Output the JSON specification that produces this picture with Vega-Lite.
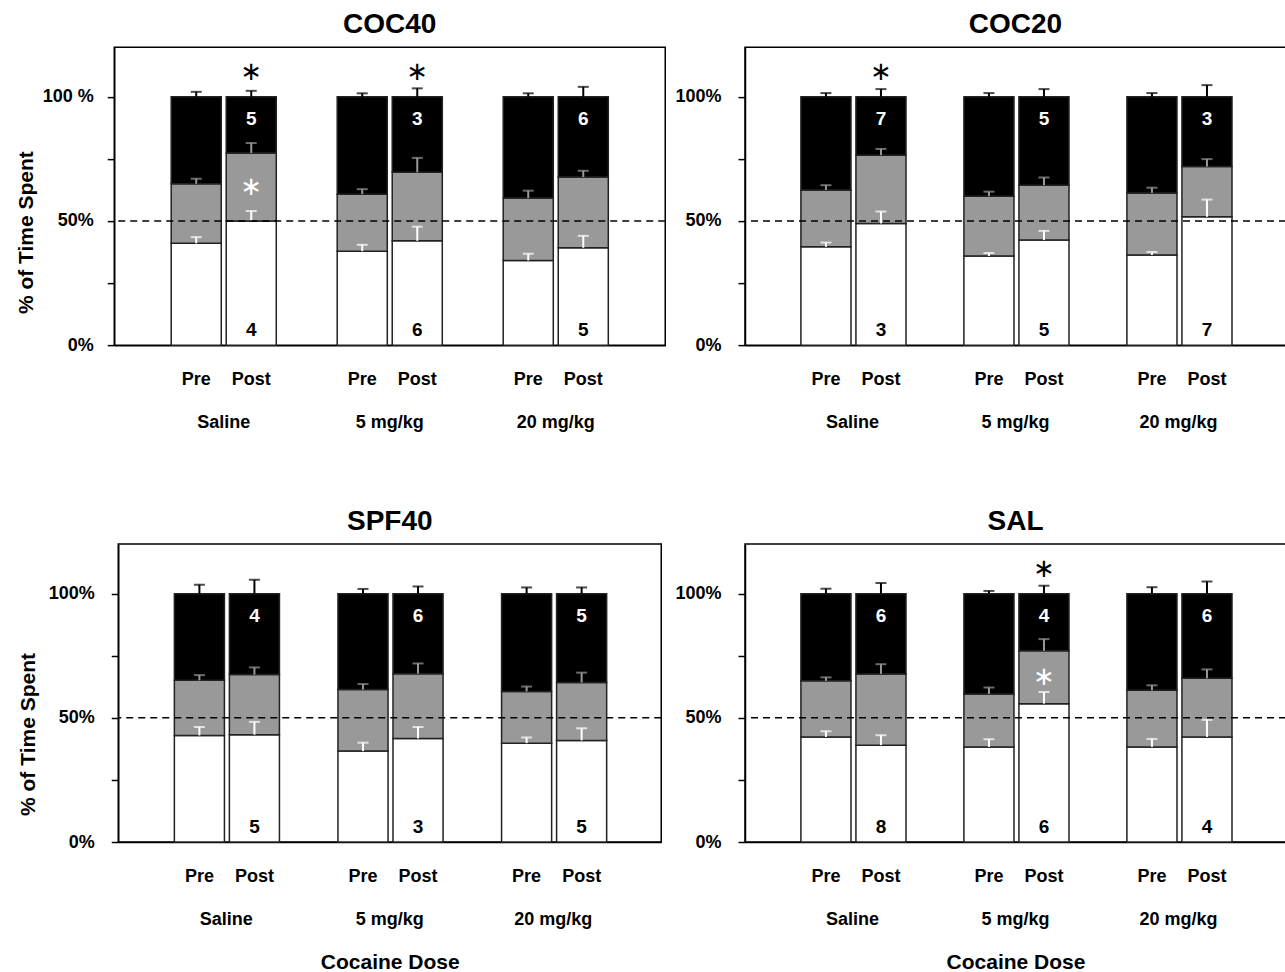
{
"$schema":"https://vega.github.io/schema/vega-lite/v6.json",
"background":"white",
"padding":{"left":0,"top":10,"right":0,"bottom":0},
"config":{"font":"Liberation Sans","view":{"stroke":"#000","strokeWidth":1.5},"axis":{"domainColor":"#000","tickColor":"#000","labelColor":"#000","titleColor":"#000","domainWidth":1.5,"tickWidth":1.5,"grid":false,"labelFont":"Liberation Sans","titleFont":"Liberation Sans"},"title":{"font":"Liberation Sans","color":"#000"}},
"datasets":{"seg":[
{"p":"COC40","d":"Saline","ph":"Pre","z":"White","lo":0,"hi":41,"err":43.5},
{"p":"COC40","d":"Saline","ph":"Pre","z":"Gray","lo":41,"hi":65,"err":67},
{"p":"COC40","d":"Saline","ph":"Pre","z":"Black","lo":65,"hi":100,"err":102},
{"p":"COC40","d":"Saline","ph":"Post","z":"White","lo":0,"hi":50,"err":54,"n":"4"},
{"p":"COC40","d":"Saline","ph":"Post","z":"Gray","lo":50,"hi":77.4,"err":81.4,"star":true},
{"p":"COC40","d":"Saline","ph":"Post","z":"Black","lo":77.4,"hi":100,"err":102.4,"n":"5","star":true},
{"p":"COC40","d":"5 mg/kg","ph":"Pre","z":"White","lo":0,"hi":37.8,"err":40.4},
{"p":"COC40","d":"5 mg/kg","ph":"Pre","z":"Gray","lo":37.8,"hi":60.8,"err":62.8},
{"p":"COC40","d":"5 mg/kg","ph":"Pre","z":"Black","lo":60.8,"hi":100,"err":101.4},
{"p":"COC40","d":"5 mg/kg","ph":"Post","z":"White","lo":0,"hi":42,"err":47.7,"n":"6"},
{"p":"COC40","d":"5 mg/kg","ph":"Post","z":"Gray","lo":42,"hi":69.6,"err":75.4},
{"p":"COC40","d":"5 mg/kg","ph":"Post","z":"Black","lo":69.6,"hi":100,"err":103.4,"n":"3","star":true},
{"p":"COC40","d":"20 mg/kg","ph":"Pre","z":"White","lo":0,"hi":34.1,"err":36.8},
{"p":"COC40","d":"20 mg/kg","ph":"Pre","z":"Gray","lo":34.1,"hi":59.2,"err":62.2},
{"p":"COC40","d":"20 mg/kg","ph":"Pre","z":"Black","lo":59.2,"hi":100,"err":101.4},
{"p":"COC40","d":"20 mg/kg","ph":"Post","z":"White","lo":0,"hi":39.2,"err":44,"n":"5"},
{"p":"COC40","d":"20 mg/kg","ph":"Post","z":"Gray","lo":39.2,"hi":67.7,"err":70.2},
{"p":"COC40","d":"20 mg/kg","ph":"Post","z":"Black","lo":67.7,"hi":100,"err":104,"n":"6"},
{"p":"COC20","d":"Saline","ph":"Pre","z":"White","lo":0,"hi":39.6,"err":41.3},
{"p":"COC20","d":"Saline","ph":"Pre","z":"Gray","lo":39.6,"hi":62.5,"err":64.4},
{"p":"COC20","d":"Saline","ph":"Pre","z":"Black","lo":62.5,"hi":100,"err":101.5},
{"p":"COC20","d":"Saline","ph":"Post","z":"White","lo":0,"hi":49,"err":53.8,"n":"3"},
{"p":"COC20","d":"Saline","ph":"Post","z":"Gray","lo":49,"hi":76.5,"err":79},
{"p":"COC20","d":"Saline","ph":"Post","z":"Black","lo":76.5,"hi":100,"err":103.1,"n":"7","star":true},
{"p":"COC20","d":"5 mg/kg","ph":"Pre","z":"White","lo":0,"hi":35.9,"err":37.1},
{"p":"COC20","d":"5 mg/kg","ph":"Pre","z":"Gray","lo":35.9,"hi":60,"err":61.8},
{"p":"COC20","d":"5 mg/kg","ph":"Pre","z":"Black","lo":60,"hi":100,"err":101.5},
{"p":"COC20","d":"5 mg/kg","ph":"Post","z":"White","lo":0,"hi":42.3,"err":46,"n":"5"},
{"p":"COC20","d":"5 mg/kg","ph":"Post","z":"Gray","lo":42.3,"hi":64.4,"err":67.5},
{"p":"COC20","d":"5 mg/kg","ph":"Post","z":"Black","lo":64.4,"hi":100,"err":103.1,"n":"5"},
{"p":"COC20","d":"20 mg/kg","ph":"Pre","z":"White","lo":0,"hi":36.3,"err":37.5},
{"p":"COC20","d":"20 mg/kg","ph":"Pre","z":"Gray","lo":36.3,"hi":61.3,"err":63.4},
{"p":"COC20","d":"20 mg/kg","ph":"Pre","z":"Black","lo":61.3,"hi":100,"err":101.5},
{"p":"COC20","d":"20 mg/kg","ph":"Post","z":"White","lo":0,"hi":51.7,"err":58.6,"n":"7"},
{"p":"COC20","d":"20 mg/kg","ph":"Post","z":"Gray","lo":51.7,"hi":71.9,"err":74.9},
{"p":"COC20","d":"20 mg/kg","ph":"Post","z":"Black","lo":71.9,"hi":100,"err":104.7,"n":"3"},
{"p":"SPF40","d":"Saline","ph":"Pre","z":"White","lo":0,"hi":42.9,"err":46.3},
{"p":"SPF40","d":"Saline","ph":"Pre","z":"Gray","lo":42.9,"hi":65.1,"err":67.2},
{"p":"SPF40","d":"Saline","ph":"Pre","z":"Black","lo":65.1,"hi":100,"err":103.6},
{"p":"SPF40","d":"Saline","ph":"Post","z":"White","lo":0,"hi":43.2,"err":48.4,"n":"5"},
{"p":"SPF40","d":"Saline","ph":"Post","z":"Gray","lo":43.2,"hi":67.4,"err":70.3},
{"p":"SPF40","d":"Saline","ph":"Post","z":"Black","lo":67.4,"hi":100,"err":105.6,"n":"4"},
{"p":"SPF40","d":"5 mg/kg","ph":"Pre","z":"White","lo":0,"hi":36.6,"err":40},
{"p":"SPF40","d":"5 mg/kg","ph":"Pre","z":"Gray","lo":36.6,"hi":61.4,"err":63.6},
{"p":"SPF40","d":"5 mg/kg","ph":"Pre","z":"Black","lo":61.4,"hi":100,"err":101.9},
{"p":"SPF40","d":"5 mg/kg","ph":"Post","z":"White","lo":0,"hi":41.7,"err":46.3,"n":"3"},
{"p":"SPF40","d":"5 mg/kg","ph":"Post","z":"Gray","lo":41.7,"hi":67.8,"err":71.9},
{"p":"SPF40","d":"5 mg/kg","ph":"Post","z":"Black","lo":67.8,"hi":100,"err":102.9,"n":"6"},
{"p":"SPF40","d":"20 mg/kg","ph":"Pre","z":"White","lo":0,"hi":39.8,"err":42.1},
{"p":"SPF40","d":"20 mg/kg","ph":"Pre","z":"Gray","lo":39.8,"hi":60.6,"err":62.6},
{"p":"SPF40","d":"20 mg/kg","ph":"Pre","z":"Black","lo":60.6,"hi":100,"err":102.5},
{"p":"SPF40","d":"20 mg/kg","ph":"Post","z":"White","lo":0,"hi":40.9,"err":45.8,"n":"5"},
{"p":"SPF40","d":"20 mg/kg","ph":"Post","z":"Gray","lo":40.9,"hi":64.2,"err":68.2},
{"p":"SPF40","d":"20 mg/kg","ph":"Post","z":"Black","lo":64.2,"hi":100,"err":102.5,"n":"5"},
{"p":"SAL","d":"Saline","ph":"Pre","z":"White","lo":0,"hi":42.3,"err":44.6},
{"p":"SAL","d":"Saline","ph":"Pre","z":"Gray","lo":42.3,"hi":64.9,"err":66.3},
{"p":"SAL","d":"Saline","ph":"Pre","z":"Black","lo":64.9,"hi":100,"err":102},
{"p":"SAL","d":"Saline","ph":"Post","z":"White","lo":0,"hi":39,"err":43,"n":"8"},
{"p":"SAL","d":"Saline","ph":"Post","z":"Gray","lo":39,"hi":67.7,"err":71.6},
{"p":"SAL","d":"Saline","ph":"Post","z":"Black","lo":67.7,"hi":100,"err":104.3,"n":"6"},
{"p":"SAL","d":"5 mg/kg","ph":"Pre","z":"White","lo":0,"hi":38.3,"err":41.4},
{"p":"SAL","d":"5 mg/kg","ph":"Pre","z":"Gray","lo":38.3,"hi":59.6,"err":62.2},
{"p":"SAL","d":"5 mg/kg","ph":"Pre","z":"Black","lo":59.6,"hi":100,"err":101.1},
{"p":"SAL","d":"5 mg/kg","ph":"Post","z":"White","lo":0,"hi":55.7,"err":60.4,"n":"6"},
{"p":"SAL","d":"5 mg/kg","ph":"Post","z":"Gray","lo":55.7,"hi":77,"err":81.7,"star":true},
{"p":"SAL","d":"5 mg/kg","ph":"Post","z":"Black","lo":77,"hi":100,"err":103.2,"n":"4","star":true},
{"p":"SAL","d":"20 mg/kg","ph":"Pre","z":"White","lo":0,"hi":38.3,"err":41.5},
{"p":"SAL","d":"20 mg/kg","ph":"Pre","z":"Gray","lo":38.3,"hi":61.1,"err":63.1},
{"p":"SAL","d":"20 mg/kg","ph":"Pre","z":"Black","lo":61.1,"hi":100,"err":102.6},
{"p":"SAL","d":"20 mg/kg","ph":"Post","z":"White","lo":0,"hi":42.3,"err":49.2,"n":"4"},
{"p":"SAL","d":"20 mg/kg","ph":"Post","z":"Gray","lo":42.3,"hi":65.9,"err":69.5},
{"p":"SAL","d":"20 mg/kg","ph":"Post","z":"Black","lo":65.9,"hi":100,"err":104.9,"n":"6"}
]},
"columns":2,
"center":true,
"spacing":{"row":75,"column":7},
"concat":[
{"width":551,"height":298,"title":{"text":"COC40","fontSize":28,"fontWeight":"bold","offset":8,"frame":"group"},"data":{"name":"seg"},"transform":[{"filter":"datum.p=='COC40'"}],
"layer":[
{"mark":{"type":"bar","stroke":"#222","strokeWidth":1.5},"encoding":{"x":{"field":"d","type":"nominal","scale":{"domain":["Saline","5 mg/kg","20 mg/kg"],"paddingInner":0.367,"paddingOuter":0.343},"axis":{"title":null,"ticks":false,"tickSize":0,"labelPadding":68,"labelFontSize":18,"labelFontWeight":"bold","labelAngle":0}},"xOffset":{"field":"ph","type":"nominal","scale":{"domain":["Pre","Post"],"paddingInner":0.09,"paddingOuter":0}},"y":{"field":"lo","type":"quantitative","scale":{"domain":[0,120],"nice":false},"axis":{"title":"% of Time Spent","titleFontSize":21,"titleFontWeight":"bold","titlePadding":6,"titleY":185,"values":[0,25,50,75,100],"labelExpr":"datum.value == 100 ? '100 %' : datum.value == 50 ? '50%' : datum.value == 0 ? '0%' : ''","labelOverlap":false,"labelFontSize":18,"labelFontWeight":"bold","labelPadding":14,"tickSize":7}},"y2":{"field":"hi"},"color":{"field":"z","type":"nominal","scale":{"domain":["White","Gray","Black"],"range":["#ffffff","#999999","#000000"]},"legend":null}}},
{"mark":{"type":"rule","strokeWidth":2},"encoding":{"x":{"field":"d","type":"nominal","scale":{"domain":["Saline","5 mg/kg","20 mg/kg"]}},"xOffset":{"field":"ph","type":"nominal","scale":{"domain":["Pre","Post"]}},"y":{"field":"hi","type":"quantitative"},"y2":{"field":"err"},"color":{"field":"z","type":"nominal","legend":null}}},
{"mark":{"type":"tick","thickness":2,"size":11},"encoding":{"x":{"field":"d","type":"nominal","scale":{"domain":["Saline","5 mg/kg","20 mg/kg"]}},"xOffset":{"field":"ph","type":"nominal","scale":{"domain":["Pre","Post"]}},"y":{"field":"err","type":"quantitative"},"color":{"field":"z","type":"nominal","legend":null}}},
{"transform":[{"filter":"datum.z=='White' && datum.ph=='Pre' && datum.d=='Saline'"}],"mark":{"type":"rule","strokeDash":[7,5],"strokeWidth":1.5,"color":"#000"},"encoding":{"y":{"datum":50,"type":"quantitative"}}},
{"transform":[{"filter":"datum.z=='White'"}],"mark":{"type":"text","fontSize":18,"fontWeight":"bold","baseline":"middle","color":"#000"},"encoding":{"x":{"field":"d","type":"nominal","scale":{"domain":["Saline","5 mg/kg","20 mg/kg"]}},"xOffset":{"field":"ph","type":"nominal","scale":{"domain":["Pre","Post"]}},"y":{"datum":-14,"type":"quantitative"},"text":{"field":"ph"}}},
{"transform":[{"filter":"datum.z=='Black' && isValid(datum.n)"}],"mark":{"type":"text","fontSize":19,"fontWeight":"bold","baseline":"middle","color":"#fff"},"encoding":{"x":{"field":"d","type":"nominal","scale":{"domain":["Saline","5 mg/kg","20 mg/kg"]}},"xOffset":{"field":"ph","type":"nominal","scale":{"domain":["Pre","Post"]}},"y":{"datum":91,"type":"quantitative"},"text":{"field":"n"}}},
{"transform":[{"filter":"datum.z=='White' && isValid(datum.n)"}],"mark":{"type":"text","fontSize":19,"fontWeight":"bold","baseline":"middle","color":"#000"},"encoding":{"x":{"field":"d","type":"nominal","scale":{"domain":["Saline","5 mg/kg","20 mg/kg"]}},"xOffset":{"field":"ph","type":"nominal","scale":{"domain":["Pre","Post"]}},"y":{"datum":6,"type":"quantitative"},"text":{"field":"n"}}},
{"transform":[{"filter":"datum.z=='Black' && datum.star"}],"mark":{"type":"text","text":"∗","font":"DejaVu Sans","fontSize":26,"baseline":"middle","color":"#000"},"encoding":{"x":{"field":"d","type":"nominal","scale":{"domain":["Saline","5 mg/kg","20 mg/kg"]}},"xOffset":{"field":"ph","type":"nominal","scale":{"domain":["Pre","Post"]}},"y":{"datum":110,"type":"quantitative"}}},
{"transform":[{"filter":"datum.z=='Gray' && datum.star"},{"calculate":"(datum.lo+datum.hi)/2","as":"mid"}],"mark":{"type":"text","text":"∗","font":"DejaVu Sans","fontSize":26,"baseline":"middle","color":"#fff"},"encoding":{"x":{"field":"d","type":"nominal","scale":{"domain":["Saline","5 mg/kg","20 mg/kg"]}},"xOffset":{"field":"ph","type":"nominal","scale":{"domain":["Pre","Post"]}},"y":{"field":"mid","type":"quantitative"}}}
]},
{"width":541,"height":298,"title":{"text":"COC20","fontSize":28,"fontWeight":"bold","offset":8,"frame":"group"},"data":{"name":"seg"},"transform":[{"filter":"datum.p=='COC20'"}],
"layer":[
{"mark":{"type":"bar","stroke":"#222","strokeWidth":1.5},"encoding":{"x":{"field":"d","type":"nominal","scale":{"domain":["Saline","5 mg/kg","20 mg/kg"],"paddingInner":0.367,"paddingOuter":0.343},"axis":{"title":null,"ticks":false,"tickSize":0,"labelPadding":68,"labelFontSize":18,"labelFontWeight":"bold","labelAngle":0}},"xOffset":{"field":"ph","type":"nominal","scale":{"domain":["Pre","Post"],"paddingInner":0.09,"paddingOuter":0}},"y":{"field":"lo","type":"quantitative","scale":{"domain":[0,120],"nice":false},"axis":{"title":null,"values":[0,25,50,75,100],"labelExpr":"datum.value == 100 ? '100%' : datum.value == 50 ? '50%' : datum.value == 0 ? '0%' : ''","labelOverlap":false,"labelFontSize":18,"labelFontWeight":"bold","labelPadding":17,"tickSize":7}},"y2":{"field":"hi"},"color":{"field":"z","type":"nominal","scale":{"domain":["White","Gray","Black"],"range":["#ffffff","#999999","#000000"]},"legend":null}}},
{"mark":{"type":"rule","strokeWidth":2},"encoding":{"x":{"field":"d","type":"nominal","scale":{"domain":["Saline","5 mg/kg","20 mg/kg"]}},"xOffset":{"field":"ph","type":"nominal","scale":{"domain":["Pre","Post"]}},"y":{"field":"hi","type":"quantitative"},"y2":{"field":"err"},"color":{"field":"z","type":"nominal","legend":null}}},
{"mark":{"type":"tick","thickness":2,"size":11},"encoding":{"x":{"field":"d","type":"nominal","scale":{"domain":["Saline","5 mg/kg","20 mg/kg"]}},"xOffset":{"field":"ph","type":"nominal","scale":{"domain":["Pre","Post"]}},"y":{"field":"err","type":"quantitative"},"color":{"field":"z","type":"nominal","legend":null}}},
{"transform":[{"filter":"datum.z=='White' && datum.ph=='Pre' && datum.d=='Saline'"}],"mark":{"type":"rule","strokeDash":[7,5],"strokeWidth":1.5,"color":"#000"},"encoding":{"y":{"datum":50,"type":"quantitative"}}},
{"transform":[{"filter":"datum.z=='White'"}],"mark":{"type":"text","fontSize":18,"fontWeight":"bold","baseline":"middle","color":"#000"},"encoding":{"x":{"field":"d","type":"nominal","scale":{"domain":["Saline","5 mg/kg","20 mg/kg"]}},"xOffset":{"field":"ph","type":"nominal","scale":{"domain":["Pre","Post"]}},"y":{"datum":-14,"type":"quantitative"},"text":{"field":"ph"}}},
{"transform":[{"filter":"datum.z=='Black' && isValid(datum.n)"}],"mark":{"type":"text","fontSize":19,"fontWeight":"bold","baseline":"middle","color":"#fff"},"encoding":{"x":{"field":"d","type":"nominal","scale":{"domain":["Saline","5 mg/kg","20 mg/kg"]}},"xOffset":{"field":"ph","type":"nominal","scale":{"domain":["Pre","Post"]}},"y":{"datum":91,"type":"quantitative"},"text":{"field":"n"}}},
{"transform":[{"filter":"datum.z=='White' && isValid(datum.n)"}],"mark":{"type":"text","fontSize":19,"fontWeight":"bold","baseline":"middle","color":"#000"},"encoding":{"x":{"field":"d","type":"nominal","scale":{"domain":["Saline","5 mg/kg","20 mg/kg"]}},"xOffset":{"field":"ph","type":"nominal","scale":{"domain":["Pre","Post"]}},"y":{"datum":6,"type":"quantitative"},"text":{"field":"n"}}},
{"transform":[{"filter":"datum.z=='Black' && datum.star"}],"mark":{"type":"text","text":"∗","font":"DejaVu Sans","fontSize":26,"baseline":"middle","color":"#000"},"encoding":{"x":{"field":"d","type":"nominal","scale":{"domain":["Saline","5 mg/kg","20 mg/kg"]}},"xOffset":{"field":"ph","type":"nominal","scale":{"domain":["Pre","Post"]}},"y":{"datum":110,"type":"quantitative"}}}
]},
{"width":543,"height":298,"title":{"text":"SPF40","fontSize":28,"fontWeight":"bold","offset":8,"frame":"group"},"data":{"name":"seg"},"transform":[{"filter":"datum.p=='SPF40'"}],
"layer":[
{"mark":{"type":"bar","stroke":"#222","strokeWidth":1.5},"encoding":{"x":{"field":"d","type":"nominal","scale":{"domain":["Saline","5 mg/kg","20 mg/kg"],"paddingInner":0.367,"paddingOuter":0.343},"axis":{"title":"Cocaine Dose","titleFontSize":21,"titleFontWeight":"bold","titlePadding":23,"ticks":false,"tickSize":0,"labelPadding":68,"labelFontSize":18,"labelFontWeight":"bold","labelAngle":0}},"xOffset":{"field":"ph","type":"nominal","scale":{"domain":["Pre","Post"],"paddingInner":0.09,"paddingOuter":0}},"y":{"field":"lo","type":"quantitative","scale":{"domain":[0,120],"nice":false},"axis":{"title":[" ","% of Time Spent"],"titleLineHeight":16,"titleFontSize":21,"titleFontWeight":"bold","titlePadding":10,"titleY":190,"values":[0,25,50,75,100],"labelExpr":"datum.value == 100 ? '100%' : datum.value == 50 ? '50%' : datum.value == 0 ? '0%' : ''","labelOverlap":false,"labelFontSize":18,"labelFontWeight":"bold","labelPadding":17,"tickSize":7}},"y2":{"field":"hi"},"color":{"field":"z","type":"nominal","scale":{"domain":["White","Gray","Black"],"range":["#ffffff","#999999","#000000"]},"legend":null}}},
{"mark":{"type":"rule","strokeWidth":2},"encoding":{"x":{"field":"d","type":"nominal","scale":{"domain":["Saline","5 mg/kg","20 mg/kg"]}},"xOffset":{"field":"ph","type":"nominal","scale":{"domain":["Pre","Post"]}},"y":{"field":"hi","type":"quantitative"},"y2":{"field":"err"},"color":{"field":"z","type":"nominal","legend":null}}},
{"mark":{"type":"tick","thickness":2,"size":11},"encoding":{"x":{"field":"d","type":"nominal","scale":{"domain":["Saline","5 mg/kg","20 mg/kg"]}},"xOffset":{"field":"ph","type":"nominal","scale":{"domain":["Pre","Post"]}},"y":{"field":"err","type":"quantitative"},"color":{"field":"z","type":"nominal","legend":null}}},
{"transform":[{"filter":"datum.z=='White' && datum.ph=='Pre' && datum.d=='Saline'"}],"mark":{"type":"rule","strokeDash":[7,5],"strokeWidth":1.5,"color":"#000"},"encoding":{"y":{"datum":50,"type":"quantitative"}}},
{"transform":[{"filter":"datum.z=='White'"}],"mark":{"type":"text","fontSize":18,"fontWeight":"bold","baseline":"middle","color":"#000"},"encoding":{"x":{"field":"d","type":"nominal","scale":{"domain":["Saline","5 mg/kg","20 mg/kg"]}},"xOffset":{"field":"ph","type":"nominal","scale":{"domain":["Pre","Post"]}},"y":{"datum":-14,"type":"quantitative"},"text":{"field":"ph"}}},
{"transform":[{"filter":"datum.z=='Black' && isValid(datum.n)"}],"mark":{"type":"text","fontSize":19,"fontWeight":"bold","baseline":"middle","color":"#fff"},"encoding":{"x":{"field":"d","type":"nominal","scale":{"domain":["Saline","5 mg/kg","20 mg/kg"]}},"xOffset":{"field":"ph","type":"nominal","scale":{"domain":["Pre","Post"]}},"y":{"datum":91,"type":"quantitative"},"text":{"field":"n"}}},
{"transform":[{"filter":"datum.z=='White' && isValid(datum.n)"}],"mark":{"type":"text","fontSize":19,"fontWeight":"bold","baseline":"middle","color":"#000"},"encoding":{"x":{"field":"d","type":"nominal","scale":{"domain":["Saline","5 mg/kg","20 mg/kg"]}},"xOffset":{"field":"ph","type":"nominal","scale":{"domain":["Pre","Post"]}},"y":{"datum":6,"type":"quantitative"},"text":{"field":"n"}}}
]},
{"width":541,"height":298,"title":{"text":"SAL","fontSize":28,"fontWeight":"bold","offset":8,"frame":"group"},"data":{"name":"seg"},"transform":[{"filter":"datum.p=='SAL'"}],
"layer":[
{"mark":{"type":"bar","stroke":"#222","strokeWidth":1.5},"encoding":{"x":{"field":"d","type":"nominal","scale":{"domain":["Saline","5 mg/kg","20 mg/kg"],"paddingInner":0.367,"paddingOuter":0.343},"axis":{"title":"Cocaine Dose","titleFontSize":21,"titleFontWeight":"bold","titlePadding":23,"ticks":false,"tickSize":0,"labelPadding":68,"labelFontSize":18,"labelFontWeight":"bold","labelAngle":0}},"xOffset":{"field":"ph","type":"nominal","scale":{"domain":["Pre","Post"],"paddingInner":0.09,"paddingOuter":0}},"y":{"field":"lo","type":"quantitative","scale":{"domain":[0,120],"nice":false},"axis":{"title":null,"values":[0,25,50,75,100],"labelExpr":"datum.value == 100 ? '100%' : datum.value == 50 ? '50%' : datum.value == 0 ? '0%' : ''","labelOverlap":false,"labelFontSize":18,"labelFontWeight":"bold","labelPadding":17,"tickSize":7}},"y2":{"field":"hi"},"color":{"field":"z","type":"nominal","scale":{"domain":["White","Gray","Black"],"range":["#ffffff","#999999","#000000"]},"legend":null}}},
{"mark":{"type":"rule","strokeWidth":2},"encoding":{"x":{"field":"d","type":"nominal","scale":{"domain":["Saline","5 mg/kg","20 mg/kg"]}},"xOffset":{"field":"ph","type":"nominal","scale":{"domain":["Pre","Post"]}},"y":{"field":"hi","type":"quantitative"},"y2":{"field":"err"},"color":{"field":"z","type":"nominal","legend":null}}},
{"mark":{"type":"tick","thickness":2,"size":11},"encoding":{"x":{"field":"d","type":"nominal","scale":{"domain":["Saline","5 mg/kg","20 mg/kg"]}},"xOffset":{"field":"ph","type":"nominal","scale":{"domain":["Pre","Post"]}},"y":{"field":"err","type":"quantitative"},"color":{"field":"z","type":"nominal","legend":null}}},
{"transform":[{"filter":"datum.z=='White' && datum.ph=='Pre' && datum.d=='Saline'"}],"mark":{"type":"rule","strokeDash":[7,5],"strokeWidth":1.5,"color":"#000"},"encoding":{"y":{"datum":50,"type":"quantitative"}}},
{"transform":[{"filter":"datum.z=='White'"}],"mark":{"type":"text","fontSize":18,"fontWeight":"bold","baseline":"middle","color":"#000"},"encoding":{"x":{"field":"d","type":"nominal","scale":{"domain":["Saline","5 mg/kg","20 mg/kg"]}},"xOffset":{"field":"ph","type":"nominal","scale":{"domain":["Pre","Post"]}},"y":{"datum":-14,"type":"quantitative"},"text":{"field":"ph"}}},
{"transform":[{"filter":"datum.z=='Black' && isValid(datum.n)"}],"mark":{"type":"text","fontSize":19,"fontWeight":"bold","baseline":"middle","color":"#fff"},"encoding":{"x":{"field":"d","type":"nominal","scale":{"domain":["Saline","5 mg/kg","20 mg/kg"]}},"xOffset":{"field":"ph","type":"nominal","scale":{"domain":["Pre","Post"]}},"y":{"datum":91,"type":"quantitative"},"text":{"field":"n"}}},
{"transform":[{"filter":"datum.z=='White' && isValid(datum.n)"}],"mark":{"type":"text","fontSize":19,"fontWeight":"bold","baseline":"middle","color":"#000"},"encoding":{"x":{"field":"d","type":"nominal","scale":{"domain":["Saline","5 mg/kg","20 mg/kg"]}},"xOffset":{"field":"ph","type":"nominal","scale":{"domain":["Pre","Post"]}},"y":{"datum":6,"type":"quantitative"},"text":{"field":"n"}}},
{"transform":[{"filter":"datum.z=='Black' && datum.star"}],"mark":{"type":"text","text":"∗","font":"DejaVu Sans","fontSize":26,"baseline":"middle","color":"#000"},"encoding":{"x":{"field":"d","type":"nominal","scale":{"domain":["Saline","5 mg/kg","20 mg/kg"]}},"xOffset":{"field":"ph","type":"nominal","scale":{"domain":["Pre","Post"]}},"y":{"datum":110,"type":"quantitative"}}},
{"transform":[{"filter":"datum.z=='Gray' && datum.star"},{"calculate":"(datum.lo+datum.hi)/2","as":"mid"}],"mark":{"type":"text","text":"∗","font":"DejaVu Sans","fontSize":26,"baseline":"middle","color":"#fff"},"encoding":{"x":{"field":"d","type":"nominal","scale":{"domain":["Saline","5 mg/kg","20 mg/kg"]}},"xOffset":{"field":"ph","type":"nominal","scale":{"domain":["Pre","Post"]}},"y":{"field":"mid","type":"quantitative"}}}
]}
]}
